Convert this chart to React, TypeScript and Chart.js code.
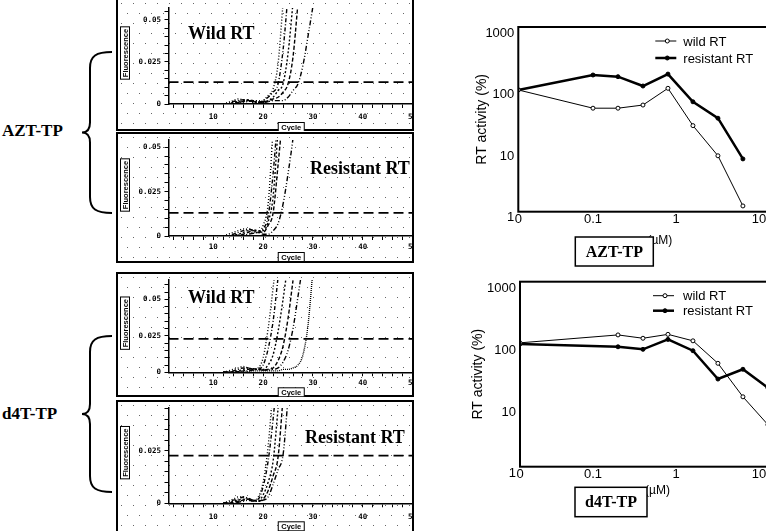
import React, { useEffect, useRef } from "react";
import { Chart, registerables } from "chart.js";

Chart.register(...registerables);

// ---------------- qPCR amplification panels (left) ----------------
const cycles = [12, 13, 14, 15, 16, 17, 18, 19, 20, 21, 22, 23, 24, 25, 26, 27, 28, 29, 30];

const aztWildCurves = [
  [0, 0.001, 0.002, 0.003, 0.0025, 0.002, 0.001, 0.001, 0.002, 0.005, 0.009, 0.024, 0.06],
  [0, 0.0005, 0.0015, 0.002, 0.0025, 0.002, 0.0015, 0.001, 0.002, 0.004, 0.007, 0.012, 0.032, 0.065],
  [0, 0, 0.001, 0.0015, 0.002, 0.0025, 0.002, 0.001, 0.001, 0.002, 0.004, 0.008, 0.012, 0.03, 0.06],
  [0, 0, 0.0005, 0.001, 0.0015, 0.002, 0.0015, 0.001, 0.001, 0.0015, 0.003, 0.004, 0.007, 0.012, 0.028, 0.06],
  [0, 0, 0, 0.0005, 0.001, 0.0015, 0.002, 0.002, 0.0015, 0.0015, 0.002, 0.002, 0.002, 0.004, 0.008, 0.012, 0.023, 0.04, 0.058],
];
const aztResistantCurves = [
  [0, 0.001, 0.002, 0.003, 0.004, 0.003, 0.002, 0.002, 0.006, 0.018, 0.06],
  [0, 0, 0.001, 0.002, 0.003, 0.004, 0.003, 0.002, 0.004, 0.011, 0.035, 0.07],
  [0, 0, 0.0005, 0.001, 0.002, 0.003, 0.0035, 0.003, 0.003, 0.008, 0.022, 0.06],
  [0, 0, 0, 0.0005, 0.001, 0.002, 0.003, 0.0025, 0.002, 0.006, 0.013, 0.04, 0.07],
  [0, 0, 0, 0, 0.0005, 0.001, 0.0015, 0.002, 0.001, 0.001, 0.003, 0.007, 0.018, 0.035, 0.055, 0.08],
];
const d4tWildCurves = [
  [0, 0.001, 0.002, 0.003, 0.004, 0.003, 0.002, 0.003, 0.01, 0.03, 0.058, 0.09],
  [0, 0, 0.001, 0.002, 0.003, 0.003, 0.002, 0.002, 0.005, 0.016, 0.035, 0.065],
  [0, 0, 0.0005, 0.001, 0.002, 0.003, 0.002, 0.002, 0.002, 0.005, 0.012, 0.028, 0.05, 0.075],
  [0, 0, 0, 0.0005, 0.001, 0.002, 0.0025, 0.002, 0.0015, 0.002, 0.003, 0.008, 0.018, 0.037, 0.063],
  [0, 0, 0, 0, 0.0005, 0.001, 0.0015, 0.002, 0.0015, 0.0015, 0.002, 0.003, 0.007, 0.015, 0.03, 0.052, 0.075],
  [0, 0, 0, 0, 0, 0.0005, 0.001, 0.001, 0.001, 0.001, 0.001, 0.001, 0.002, 0.002, 0.003, 0.005, 0.012, 0.032, 0.07],
];
const d4tResistantCurves = [
  [0, 0.001, 0.002, 0.003, 0.003, 0.002, 0.001, 0.003, 0.01, 0.027, 0.055],
  [0, 0.0005, 0.0015, 0.002, 0.003, 0.0025, 0.0015, 0.002, 0.008, 0.02, 0.04, 0.065],
  [0, 0, 0.001, 0.0015, 0.002, 0.002, 0.0015, 0.001, 0.004, 0.01, 0.02, 0.045, 0.07],
  [0, 0, 0.0005, 0.001, 0.0015, 0.002, 0.0015, 0.001, 0.002, 0.006, 0.013, 0.022, 0.05],
  [0, 0, 0, 0.0005, 0.001, 0.0015, 0.001, 0.001, 0.0015, 0.003, 0.009, 0.016, 0.023, 0.05],
];
const thresholds = [0.013, 0.013, 0.0229, 0.0227];
const fluorTickValues = [0, 0.025, 0.05];
const fluorTickLabels = ["0", "0.025", "0.05"];
const cycleTickValues = [10, 20, 30, 40, 50];
const cycleTickLabels = ["10", "20", "30", "40", "50"];

// ---------------- RT activity dose–response (right) ----------------
const aztConc = [0, 0.1, 0.2, 0.4, 0.8, 1.6, 3.2, 6.4];
const aztWildRT = [95, 48, 48, 54, 101, 25, 8.1, 1.24];
const aztResistantRT = [95, 166, 156, 110, 172, 61, 33, 7.2];
const d4tConc = [0, 0.2, 0.4, 0.8, 1.6, 3.2, 6.4, 12.8];
const d4tWildRT = [102, 137, 121, 140, 110, 47.5, 13.6, 4.8];
const d4tResistantRT = [98, 88, 80, 116, 76, 26.4, 38, 19];
const rtTickValues = [1, 10, 100, 1000];
const rtTickLabels = ["1", "10", "100", "1000"];
const concTickLabels = ["0", "0.1", "1", "10"];

const dashes = [[1, 2], [4, 2, 1, 2], [2, 2], [4, 2], [5, 2, 1, 2, 1, 2], [1, 1]];
const X_MIN = 1;
const X_MAX = 52.5;
const PANEL_LEFT = 116;
const FRAME_W = 298;
const CANVAS_W = 314;

const qpcrDecor = {
  id: "qpcrDecor",
  beforeDraw(chart: any) {
    const { ctx, width, height } = chart;
    ctx.save();
    ctx.fillStyle = "#fff";
    ctx.fillRect(0, 0, width, height);
    ctx.fillStyle = "#666";
    let row = 0;
    for (let y = 5; y < height; y += 10, row++) {
      for (let x = 5 + (row % 2) * 6; x < width; x += 12) ctx.fillRect(x, y, 1, 1);
    }
    ctx.restore();
  },
  afterDraw(chart: any, _args: any, opts: any) {
    const { ctx, height, chartArea: ca } = chart;
    ctx.save();
    ctx.strokeStyle = "#000";
    ctx.lineWidth = 2;
    ctx.strokeRect(1, 1, opts.frameW - 2, height - 2);
    ctx.font = "bold 7.5px 'Liberation Sans'";
    ctx.lineWidth = 1;
    const t = "Fluorescence";
    const w = ctx.measureText(t).width;
    ctx.translate(9, (ca.top + ca.bottom) / 2 - 3);
    ctx.rotate(-Math.PI / 2);
    ctx.fillStyle = "#fff";
    ctx.fillRect(-w / 2 - 2, -4.5, w + 4, 9);
    ctx.strokeRect(-w / 2 - 2, -4.5, w + 4, 9);
    ctx.fillStyle = "#000";
    ctx.textAlign = "center";
    ctx.textBaseline = "middle";
    ctx.fillText(t, 0, 0.5);
    ctx.setTransform(1, 0, 0, 1, 0, 0);
    const c = "Cycle";
    const cw = ctx.measureText(c).width;
    const cx = (ca.left + opts.frameW) / 2;
    const cy = ca.bottom + opts.cycleDy;
    ctx.fillStyle = "#fff";
    ctx.fillRect(cx - cw / 2 - 3, cy - 4.5, cw + 6, 9);
    ctx.strokeRect(cx - cw / 2 - 3, cy - 4.5, cw + 6, 9);
    ctx.fillStyle = "#000";
    ctx.textAlign = "center";
    ctx.textBaseline = "middle";
    ctx.fillText(c, cx, cy + 0.5);
    ctx.restore();
  },
};

type Panel = {
  top: number;
  height: number;
  padTop: number;
  xAxisH: number;
  yMax: number;
  threshold: number;
  curves: number[][];
  xPad: number;
  cycleDy: number;
};

function qpcrConfig(p: Panel): any {
  const datasets: any[] = p.curves.map((vals, i) => ({
    data: cycles.map((c, j) => ({ x: c, y: j < vals.length ? vals[j] : null })),
    borderColor: "#000",
    borderWidth: 1.4,
    borderDash: dashes[i % dashes.length],
    pointRadius: 0,
    cubicInterpolationMode: "monotone",
    spanGaps: false,
    fill: false,
  }));
  datasets.push({
    data: [
      { x: X_MIN, y: p.threshold },
      { x: X_MAX, y: p.threshold },
    ],
    borderColor: "#000",
    borderWidth: 1.8,
    borderDash: [10, 5],
    pointRadius: 0,
    fill: false,
  });
  const tickFont = { family: "'DejaVu Sans Mono'", size: 7.5, weight: "bold" };
  return {
    type: "line",
    data: { datasets },
    plugins: [qpcrDecor],
    options: {
      animation: false,
      responsive: false,
      devicePixelRatio: 1,
      layout: { padding: { top: p.padTop, left: 0, right: 5, bottom: 0 } },
      plugins: {
        legend: { display: false },
        tooltip: { enabled: false },
        qpcrDecor: { cycleDy: p.cycleDy, frameW: FRAME_W },
      },
      scales: {
        x: {
          type: "linear",
          min: X_MIN,
          max: X_MAX,
          afterFit: (s: any) => {
            s.height = p.xAxisH;
          },
          grid: { drawOnChartArea: false, drawTicks: true, tickLength: 4, color: "#000", tickWidth: 1 },
          border: { color: "#000", width: 1.5 },
          ticks: {
            stepSize: 2,
            includeBounds: false,
            autoSkip: false,
            maxRotation: 0,
            padding: p.xPad,
            color: "#000",
            font: tickFont,
            callback: (v: number) => {
              const k = cycleTickValues.findIndex((t) => Math.abs(t - v) < 1e-6);
              return k >= 0 ? cycleTickLabels[k] : "";
            },
          },
        },
        y: {
          type: "linear",
          min: 0,
          max: p.yMax,
          afterFit: (s: any) => {
            s.width = 52.5;
          },
          grid: { drawOnChartArea: false, drawTicks: true, tickLength: 4, color: "#000", tickWidth: 1 },
          border: { color: "#000", width: 1.5 },
          ticks: {
            stepSize: 0.005,
            includeBounds: false,
            autoSkip: false,
            padding: 3.5,
            color: "#000",
            font: tickFont,
            callback: (v: number) => {
              const k = fluorTickValues.findIndex((t) => Math.abs(t - v) < 1e-7);
              return k >= 0 && fluorTickValues[k] <= p.yMax - 0.004 ? fluorTickLabels[k] : "";
            },
          },
        },
      },
    },
  };
}

const rtDecor = {
  id: "rtDecor",
  afterDraw(chart: any, _args: any, opts: any) {
    const { ctx, chartArea: ca } = chart;
    ctx.save();
    ctx.strokeStyle = "#000";
    ctx.lineWidth = 2;
    ctx.strokeRect(ca.left, ca.top, ca.right - ca.left, ca.bottom - ca.top);
    ctx.font = "13px 'Liberation Sans'";
    ctx.textBaseline = "middle";
    ctx.textAlign = "left";
    chart.data.datasets.forEach((ds: any, i: number) => {
      const y = ca.top + opts.legendDy[i];
      const x0 = ca.left + opts.legendDx;
      ctx.strokeStyle = "#000";
      ctx.lineWidth = ds.borderWidth;
      ctx.beginPath();
      ctx.moveTo(x0, y);
      ctx.lineTo(x0 + 21, y);
      ctx.stroke();
      ctx.beginPath();
      ctx.arc(x0 + 12, y, 2, 0, Math.PI * 2);
      ctx.fillStyle = ds.pointBackgroundColor;
      ctx.fill();
      ctx.lineWidth = 1;
      ctx.stroke();
      ctx.fillStyle = "#000";
      ctx.fillText(ds.label, ca.left + opts.textDx, y + 1);
    });
    ctx.font = "12px 'Liberation Sans'";
    ctx.textAlign = "right";
    ctx.fillStyle = "#000";
    ctx.fillText(opts.unit, ca.left + opts.unitDx, ca.bottom + opts.unitDy);
    const bx = ca.left + opts.box.dx;
    const by = ca.bottom + opts.box.dy;
    ctx.fillStyle = "#fff";
    ctx.fillRect(bx, by, opts.box.w, opts.box.h);
    ctx.lineWidth = 1.5;
    ctx.strokeRect(bx, by, opts.box.w, opts.box.h);
    ctx.fillStyle = "#000";
    ctx.textAlign = "center";
    ctx.font = "bold 16px 'Liberation Serif'";
    ctx.fillText(opts.box.text, bx + opts.box.w / 2, by + opts.box.h / 2 + 1);
    ctx.restore();
  },
};

type RT = {
  conc: number[];
  wild: number[];
  resistant: number[];
  padTop: number;
  xAxisH: number;
  yAxisW: number;
  xMin: number;
  xMax: number;
  yLabelOffset: number;
  titlePad: number;
  legendDx: number;
  legendDy: number[];
  textDx: number;
  box: { dx: number; dy: number; w: number; h: number; text: string };
  unitDx: number;
  unitDy: number;
};

function rtConfig(r: RT): any {
  const xs = r.conc.map((c) => (c === 0 ? r.xMin : c));
  const font = { family: "'Liberation Sans'", size: 13 };
  return {
    type: "line",
    data: {
      datasets: [
        {
          label: "wild RT",
          data: xs.map((x, i) => ({ x, y: r.wild[i] })),
          borderColor: "#000",
          borderWidth: 1,
          pointRadius: 2,
          pointBorderWidth: 1,
          pointBorderColor: "#000",
          pointBackgroundColor: "#fff",
          fill: false,
        },
        {
          label: "resistant RT",
          data: xs.map((x, i) => ({ x, y: r.resistant[i] })),
          borderColor: "#000",
          borderWidth: 2.5,
          pointRadius: 2,
          pointBorderWidth: 1,
          pointBorderColor: "#000",
          pointBackgroundColor: "#000",
          fill: false,
        },
      ],
    },
    plugins: [rtDecor],
    options: {
      animation: false,
      responsive: false,
      devicePixelRatio: 1,
      layout: { padding: { top: r.padTop, left: 0, right: 5, bottom: 0 } },
      plugins: {
        legend: { display: false },
        tooltip: { enabled: false },
        rtDecor: {
          legendDx: r.legendDx,
          legendDy: r.legendDy,
          textDx: r.textDx,
          box: r.box,
          unit: "(µM)",
          unitDx: r.unitDx,
          unitDy: r.unitDy,
        },
      },
      scales: {
        x: {
          type: "logarithmic",
          min: r.xMin,
          max: r.xMax,
          afterFit: (s: any) => {
            s.height = r.xAxisH;
          },
          afterBuildTicks: (s: any) => {
            s.ticks = [r.xMin, 0.1, 1, 10].map((v) => ({ value: v }));
          },
          grid: { display: false, drawTicks: false },
          border: { display: false },
          ticks: {
            autoSkip: false,
            maxRotation: 0,
            padding: 0,
            color: "#000",
            font,
            callback: (_v: number, i: number) => concTickLabels[i],
          },
        },
        y: {
          type: "logarithmic",
          min: 1,
          max: 1000,
          afterFit: (s: any) => {
            s.width = r.yAxisW;
          },
          afterBuildTicks: (s: any) => {
            s.ticks = rtTickValues.map((v) => ({ value: v }));
          },
          grid: { display: false, drawTicks: false },
          border: { display: false },
          ticks: {
            autoSkip: false,
            padding: 4,
            labelOffset: r.yLabelOffset,
            color: "#000",
            font,
            callback: (_v: number, i: number) => rtTickLabels[i],
          },
          title: {
            display: true,
            text: "RT activity (%)",
            color: "#000",
            font: { family: "'Liberation Sans'", size: 14 },
            padding: { top: r.titlePad, bottom: 0 },
          },
        },
      },
    },
  };
}

function ChartCanvas(props: { make: () => any; left: number; top: number; width: number; height: number }) {
  const ref = useRef<HTMLCanvasElement>(null);
  useEffect(() => {
    const chart = new Chart(ref.current as HTMLCanvasElement, props.make());
    return () => chart.destroy();
  }, []);
  return (
    <canvas
      ref={ref}
      width={props.width}
      height={props.height}
      style={{ position: "absolute", left: props.left, top: props.top, width: props.width, height: props.height }}
    />
  );
}

const panels: Panel[] = [
  { top: -2, height: 133, padTop: 10, xAxisH: 27, yMax: 0.057, threshold: thresholds[0], curves: aztWildCurves, xPad: 4.8, cycleDy: 23 },
  { top: 132, height: 131, padTop: 6, xAxisH: 27, yMax: 0.054, threshold: thresholds[1], curves: aztResistantCurves, xPad: 2.2, cycleDy: 21 },
  { top: 272, height: 125, padTop: 4.7, xAxisH: 24.7, yMax: 0.0633, threshold: thresholds[2], curves: d4tWildCurves, xPad: 2.5, cycleDy: 20 },
  { top: 400, height: 135, padTop: 6.7, xAxisH: 31.7, yMax: 0.0453, threshold: thresholds[3], curves: d4tResistantCurves, xPad: 5.5, cycleDy: 23 },
];

const rt1: RT = {
  conc: aztConc, wild: aztWildRT, resistant: aztResistantRT,
  padTop: 27, xAxisH: 63.3, yAxisW: 78.3, xMin: 0.0126, xMax: 17.9, yLabelOffset: 6, titlePad: 33.3,
  legendDx: 137, legendDy: [14, 31], textDx: 165,
  box: { dx: 57, dy: 25.3, w: 78, h: 29, text: "AZT-TP" }, unitDx: 154, unitDy: 29,
};
const rt2: RT = {
  conc: d4tConc, wild: d4tWildRT, resistant: d4tResistantRT,
  padTop: 26.7, xAxisH: 64.3, yAxisW: 80, xMin: 0.0132, xMax: 17.9, yLabelOffset: 7, titlePad: 29.6,
  legendDx: 133, legendDy: [14, 29], textDx: 163,
  box: { dx: 55, dy: 20.6, w: 72, h: 29.4, text: "d4T-TP" }, unitDx: 150, unitDy: 24,
};

const bigLabel: React.CSSProperties = {
  position: "absolute",
  fontFamily: "'Liberation Serif', serif",
  fontWeight: "bold",
  fontSize: 18,
  lineHeight: "18px",
  whiteSpace: "nowrap",
  color: "#000",
};

function brace(top: number, bottom: number) {
  const mid = (top + bottom) / 2;
  return `M 112 ${top} C 96 ${top}, 90 ${top + 4}, 90 ${top + 16} L 90 ${mid - 10} C 90 ${mid - 3}, 87 ${mid}, 82 ${mid} C 87 ${mid}, 90 ${mid + 3}, 90 ${mid + 10} L 90 ${bottom - 16} C 90 ${bottom - 4}, 96 ${bottom}, 112 ${bottom}`;
}

export default function App() {
  return (
    <div style={{ position: "fixed", left: 0, top: 0, width: 766, height: 531, overflow: "hidden", background: "#fff" }}>
      {panels.map((p, i) => (
        <div
          key={i}
          style={{ position: "absolute", left: PANEL_LEFT, top: p.top, width: FRAME_W, height: p.height, overflow: "hidden" }}
        >
          <ChartCanvas make={() => qpcrConfig(p)} left={0} top={0} width={CANVAS_W} height={p.height} />
        </div>
      ))}
      <ChartCanvas make={() => rtConfig(rt1)} left={440} top={0} width={345} height={275} />
      <ChartCanvas make={() => rtConfig(rt2)} left={440} top={255} width={345} height={276} />
      <div style={{ ...bigLabel, left: 188, top: 24 }}>Wild RT</div>
      <div style={{ ...bigLabel, left: 310, top: 159 }}>Resistant RT</div>
      <div style={{ ...bigLabel, left: 188, top: 288 }}>Wild RT</div>
      <div style={{ ...bigLabel, left: 305, top: 428 }}>Resistant RT</div>
      <div style={{ ...bigLabel, fontSize: 17, left: 2, top: 122 }}>AZT-TP</div>
      <div style={{ ...bigLabel, fontSize: 17, left: 2, top: 405 }}>d4T-TP</div>
      <svg width={766} height={531} style={{ position: "absolute", left: 0, top: 0, pointerEvents: "none" }}>
        <path d={brace(52, 213)} fill="none" stroke="#000" strokeWidth={2} />
        <path d={brace(336, 492)} fill="none" stroke="#000" strokeWidth={2} />
      </svg>
    </div>
  );
}
